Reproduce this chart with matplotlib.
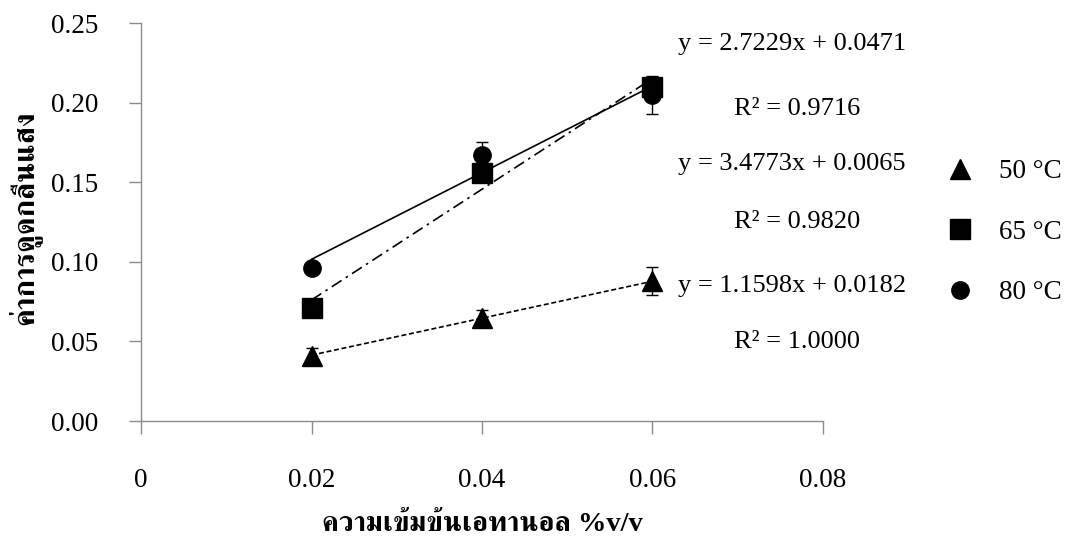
import matplotlib
matplotlib.use("Agg")
import matplotlib.pyplot as plt
from matplotlib.lines import Line2D

plt.rcParams["font.family"] = ["Liberation Serif", "FreeSerif"]

# ethanol concentration (%v/v)
conc = [0.02, 0.04, 0.06]

# absorbance, one list per temperature
abs_50 = [0.041, 0.065, 0.088]
abs_65 = [0.071, 0.156, 0.210]
abs_80 = [0.096, 0.167, 0.205]

err_50 = [0.005, 0.005, 0.009]
err_65 = [0.003, 0.003, 0.006]
err_80 = [0.003, 0.008, 0.012]

# linear trendlines as printed on the chart
slope = {"50": 1.1598, "65": 3.4773, "80": 2.7229}
intercept = {"50": 0.0182, "65": 0.0065, "80": 0.0471}
r2 = {"50": 1.0000, "65": 0.9820, "80": 0.9716}

xticks = [0, 0.02, 0.04, 0.06, 0.08]
yticks = [0.00, 0.05, 0.10, 0.15, 0.20, 0.25]

fig = plt.figure(figsize=(10.66, 5.39), dpi=100)
ax = fig.add_axes([0.1323, 0.2189, 0.6397, 0.7384])

series = [
    ("50", abs_50, err_50, "^", 14.5, (0, (3, 1.6))),
    ("65", abs_65, err_65, "s", 14.0, (0, (7, 3, 1.5, 3))),
    ("80", abs_80, err_80, "o", 12.5, "-"),
]

handles = []
for temp, ys, errs, marker, ms, ls in series:
    x0, x1 = conc[0], conc[-1]
    ax.plot([x0, x1],
            [slope[temp] * x0 + intercept[temp], slope[temp] * x1 + intercept[temp]],
            color="black", lw=1.2, linestyle=ls, zorder=2)
    ax.errorbar(conc, ys, yerr=errs, fmt=marker, color="black", ms=ms,
                ecolor="black", elinewidth=1.0, capsize=4.3, capthick=1.0,
                zorder=3)
    handles.append(Line2D([], [], marker=marker, color="black", ls="none",
                          ms=ms, label=f"{temp} °C"))

ax.set_xlim(0, 0.08)
ax.set_ylim(0, 0.25)
ax.set_xticks(xticks)
ax.set_xticklabels(["0"] + [f"{v:.2f}" for v in xticks[1:]])
ax.set_yticks(yticks)
ax.set_yticklabels([f"{v:.2f}" for v in yticks])

for side in ["top", "right"]:
    ax.spines[side].set_visible(False)
for side in ["left", "bottom"]:
    ax.spines[side].set_color("#8c8c8c")
    ax.spines[side].set_linewidth(1.0)
ax.tick_params(axis="both", direction="out", length=9, width=1.0,
               color="#8c8c8c", labelsize=19.5)
ax.tick_params(axis="y", pad=22)
ax.tick_params(axis="x", pad=25)

ax.set_xlabel("ความเข้มข้นเอทานอล %v/v", fontsize=20.5, fontweight="bold")
ax.set_ylabel("ค่าการดูดกลืนแสง", fontsize=21.5, fontweight="bold")
ax.xaxis.set_label_coords(0.5, -0.228)
ax.xaxis.label.set_va("top")
ax.yaxis.set_label_coords(-0.146, 0.51)

# trendline equations, placed like the chart's text boxes
labels = [("80", 0.9072, 0.7866), ("65", 0.6846, 0.5770), ("50", 0.4583, 0.3544)]
for temp, y_eq, y_r2 in labels:
    fig.text(0.743, y_eq, f"y = {slope[temp]:.4f}x + {intercept[temp]:.4f}",
             ha="center", va="baseline", fontsize=19)
    fig.text(0.748, y_r2, f"R² = {r2[temp]:.4f}",
             ha="center", va="baseline", fontsize=19)

fig.legend(handles=handles, loc="center left", bbox_to_anchor=(0.8753, 0.5695),
           frameon=False, fontsize=19.5, numpoints=1, borderpad=0,
           handlelength=1.0, handletextpad=0.94, labelspacing=1.31)

fig.savefig("out.png")
